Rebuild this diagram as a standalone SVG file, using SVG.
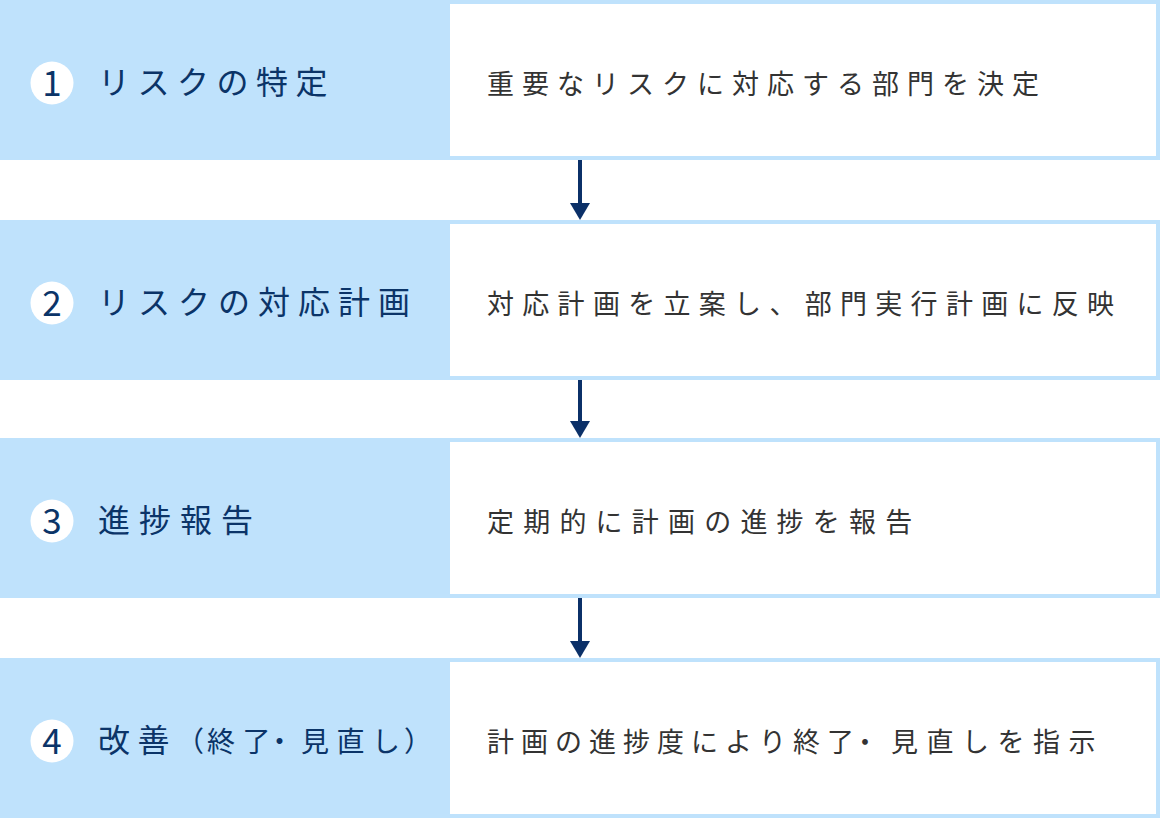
<svg xmlns="http://www.w3.org/2000/svg" width="1160" height="818" viewBox="0 0 1160 818">
<style>
.band{fill:#bfe2fc}
.panel{fill:#ffffff}
.num{fill:#ffffff}
.numtxt{font-family:"Noto Sans CJK JP","Noto Sans",sans-serif;font-size:35px;fill:#0b3468;text-anchor:middle}
.title{font-family:"Noto Sans CJK JP",sans-serif;font-size:32px;fill:#0b3468;letter-spacing:7.5px}
.desc{font-family:"Noto Sans CJK JP",sans-serif;font-size:27px;fill:#333333;letter-spacing:8px}
.fixed{letter-spacing:0}
.sub{font-size:28px}
.conn{stroke:#0b3068;stroke-width:4;fill:none}
.head{fill:#0b3068}
</style>
<rect width="1160" height="818" fill="#ffffff"/>
<g id="step1">
<rect class="band" x="0" y="0" width="1160" height="160"/>
<rect class="panel" x="450" y="4" width="706" height="152"/>
<circle class="num" cx="52" cy="83" r="21.5"/>
<text class="numtxt" x="52" y="95.5">1</text>
<text class="title" x="98" y="94">リスクの特定</text>
<text class="desc" x="487" y="94">重要なリスクに対応する部門を決定</text>
</g>
<g id="step2">
<rect class="band" x="0" y="220" width="1160" height="160"/>
<rect class="panel" x="450" y="224" width="706" height="152"/>
<circle class="num" cx="52" cy="303" r="21.5"/>
<text class="numtxt" x="52" y="315.5">2</text>
<text class="title" x="98" y="314" style="letter-spacing:8px">リスクの対応計画</text>
<text class="desc" x="487" y="314" style="letter-spacing:8.3px">対応計画を立案し、部門実行計画に反映</text>
</g>
<g id="step3">
<rect class="band" x="0" y="438" width="1160" height="160"/>
<rect class="panel" x="450" y="442" width="706" height="152"/>
<circle class="num" cx="52" cy="521" r="21.5"/>
<text class="numtxt" x="52" y="533.5">3</text>
<text class="title" x="98" y="532" style="letter-spacing:9px">進捗報告</text>
<text class="desc" x="487" y="532" style="letter-spacing:9.2px">定期的に計画の進捗を報告</text>
</g>
<g id="step4">
<rect class="band" x="0" y="658" width="1160" height="160"/>
<rect class="panel" x="450" y="662" width="706" height="152"/>
<circle class="num" cx="52" cy="741" r="21.5"/>
<text class="numtxt" x="52" y="753.5">4</text>
<text class="title fixed" x="98 137.5" y="752">改善</text>
<text class="title fixed sub" x="176 207 242.5 265.5 301 336.5 372 404" y="752">（終了・見直し）</text>
<text class="desc fixed" x="487 521 555 589 623 657 691 725 759 793 827 851.5 891 926.5 962 997.5 1033 1068.5" y="752">計画の進捗度により終了・見直しを指示</text>
</g>
<g id="connectors">
<line class="conn" x1="580" y1="160" x2="580" y2="205"/>
<polygon class="head" points="570,203 590,203 580,220"/>
<line class="conn" x1="580" y1="380" x2="580" y2="423"/>
<polygon class="head" points="570,421 590,421 580,438"/>
<line class="conn" x1="580" y1="598" x2="580" y2="643"/>
<polygon class="head" points="570,641 590,641 580,658"/>
</g>
</svg>
